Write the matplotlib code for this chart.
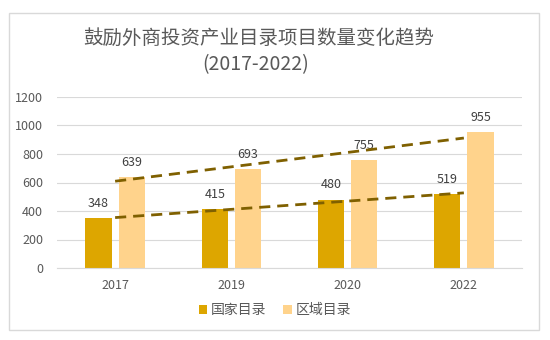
import numpy as np
import matplotlib.pyplot as plt
from matplotlib.patches import Rectangle

plt.rcParams['font.family'] = ['Noto Sans CJK SC', 'DejaVu Sans']

years = ['2017', '2019', '2020', '2022']
national = [348, 415, 480, 519]
regional = [639, 693, 755, 955]
series_names = ['国家目录', '区域目录']

dark = '#DDA600'
light = '#FFD38C'
trend = '#7F6000'
grey = '#595959'

fig = plt.figure(figsize=(5.5, 3.4), dpi=100)
fig.patches.append(Rectangle((9 / 550, 1 - 330 / 340), 530 / 550, 317 / 340,
                             transform=fig.transFigure, fill=False,
                             edgecolor='#D9D9D9', linewidth=1))

ax = fig.add_axes([57 / 550, 1 - 268 / 340, 465 / 550, 171 / 340])
x = np.arange(len(years))
w = 0.225
gap = 0.06
b1 = ax.bar(x - w / 2 - gap / 2, national, w, color=dark, label=series_names[0], zorder=2)
b2 = ax.bar(x + w / 2 + gap / 2, regional, w, color=light, label=series_names[1], zorder=2)

for bars, vals in ((b1, national), (b2, regional)):
    for r, v in zip(bars, vals):
        ax.annotate(str(v), (r.get_x() + r.get_width() / 2, v), xytext=(0, 6),
                    textcoords='offset points', ha='center', va='bottom',
                    fontsize=9, color='#404040')

# linear trendlines over the category index, like the spreadsheet does
for vals in (national, regional):
    k, c = np.polyfit(x, vals, 1)
    ax.plot(x, k * x + c, color=trend, lw=2, ls=(0, (4, 2.5)), zorder=3)

ax.set_xlim(-0.5, len(years) - 0.5)
ax.set_ylim(0, 1200)
ax.set_yticks(range(0, 1201, 200))
ax.set_xticks(x)
ax.set_xticklabels(years)
ax.grid(axis='y', color='#D9D9D9', lw=0.8, zorder=0)
for s in ('top', 'right', 'left'):
    ax.spines[s].set_visible(False)
ax.spines['bottom'].set_color('#D9D9D9')
ax.tick_params(length=0, colors=grey, labelsize=9)
ax.tick_params(axis='x', pad=8)
ax.tick_params(axis='y', pad=10)

fig.text(259 / 550, 1 - 38 / 340, '鼓励外商投资产业目录项目数量变化趋势', ha='center', va='center',
         fontsize=14, color=grey, fontweight='light')
fig.text(256 / 550, 1 - 65 / 340, '(2017-2022)', ha='center', va='center',
         fontsize=14, color=grey, fontweight='light')

fig.legend(handles=[b1, b2], loc='center', bbox_to_anchor=(0.5, 1 - 310 / 340),
           ncol=2, frameon=False, fontsize=10, labelcolor=grey,
           handlelength=0.6, handleheight=0.6, handletextpad=0.3, columnspacing=1.2)

fig.savefig('out.png', dpi=100)
